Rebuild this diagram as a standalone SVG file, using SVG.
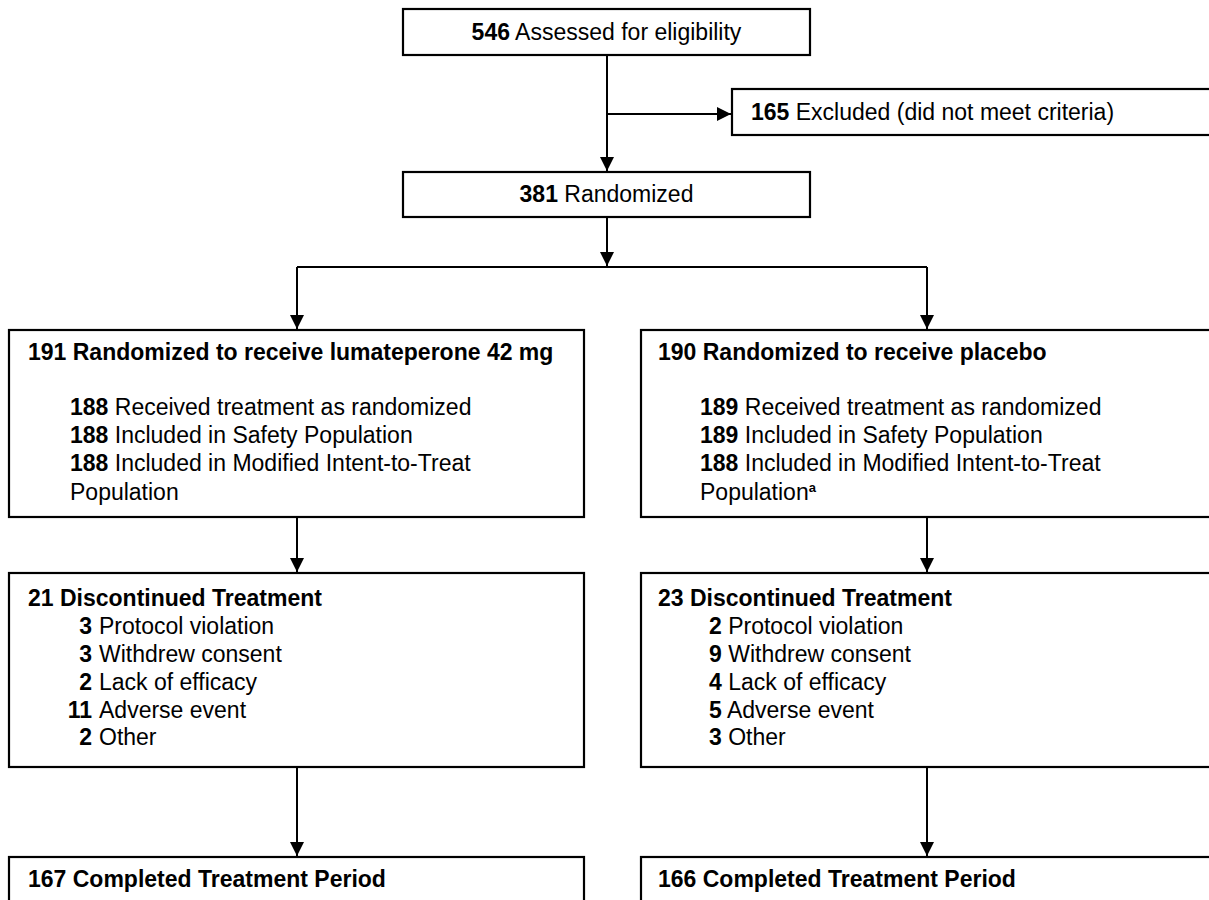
<svg xmlns="http://www.w3.org/2000/svg" width="1209" height="900" viewBox="0 0 1209 900">
<style>
  .box { fill: #ffffff; stroke: #000000; stroke-width: 2.2; }
  .t { font-family: "Liberation Sans", Arial, sans-serif; font-size: 23px; fill: #000000; }
  .b { font-weight: bold; }
  .c { text-anchor: middle; }
  .ln { fill: none; stroke: #000000; stroke-width: 2; }
</style>
<defs>
  <marker id="arr" markerUnits="userSpaceOnUse" markerWidth="15" markerHeight="15" refX="14" refY="7" orient="auto">
    <path d="M0,0 L14,7 L0,14 Z" fill="#000000"/>
  </marker>
</defs>
<rect width="1209" height="900" fill="#ffffff"/>

<g id="connectors">
  <path class="ln" d="M607,55 L607,171" marker-end="url(#arr)"/>
  <path class="ln" d="M607,114 L731,114" marker-end="url(#arr)"/>
  <path class="ln" d="M607,217 L607,266" marker-end="url(#arr)"/>
  <path class="ln" d="M297,267 L927,267"/>
  <path class="ln" d="M297,267 L297,329" marker-end="url(#arr)"/>
  <path class="ln" d="M927,267 L927,329" marker-end="url(#arr)"/>
  <path class="ln" d="M297,517 L297,572" marker-end="url(#arr)"/>
  <path class="ln" d="M927,517 L927,572" marker-end="url(#arr)"/>
  <path class="ln" d="M297,767 L297,856" marker-end="url(#arr)"/>
  <path class="ln" d="M927,767 L927,856" marker-end="url(#arr)"/>
</g>

<g id="assessed">
  <rect class="box" x="403" y="9" width="407" height="46"/>
  <text class="t c" x="606.5" y="40"><tspan class="b">546</tspan> Assessed for eligibility</text>
</g>

<g id="excluded">
  <rect class="box" x="732" y="89" width="490" height="46"/>
  <text class="t" x="751" y="120"><tspan class="b">165</tspan> Excluded (did not meet criteria)</text>
</g>

<g id="randomized">
  <rect class="box" x="403" y="172" width="407" height="45"/>
  <text class="t c" x="606.5" y="202"><tspan class="b">381</tspan> Randomized</text>
</g>

<g id="lumateperone">
  <rect class="box" x="9" y="330" width="575" height="187"/>
  <text class="t b" x="28" y="360">191 Randomized to receive lumateperone 42 mg</text>
  <text class="t" x="70" y="415"><tspan class="b">188</tspan> Received treatment as randomized</text>
  <text class="t" x="70" y="443"><tspan class="b">188</tspan> Included in Safety Population</text>
  <text class="t" x="70" y="471"><tspan class="b">188</tspan> Included in Modified Intent-to-Treat</text>
  <text class="t" x="70" y="500">Population</text>
</g>

<g id="placebo">
  <rect class="box" x="641" y="330" width="580" height="187"/>
  <text class="t b" x="658" y="360">190 Randomized to receive placebo</text>
  <text class="t" x="700" y="415"><tspan class="b">189</tspan> Received treatment as randomized</text>
  <text class="t" x="700" y="443"><tspan class="b">189</tspan> Included in Safety Population</text>
  <text class="t" x="700" y="471"><tspan class="b">188</tspan> Included in Modified Intent-to-Treat</text>
  <text class="t" x="700" y="500">Population<tspan class="b" font-size="13" dy="-8">a</tspan></text>
</g>

<g id="discontinued-lumateperone">
  <rect class="box" x="9" y="573" width="575" height="194"/>
  <text class="t b" x="28" y="606">21 Discontinued Treatment</text>
  <text class="t" text-anchor="end" y="634"><tspan class="b" x="92">3</tspan><tspan x="99" text-anchor="start">Protocol violation</tspan></text>
  <text class="t" text-anchor="end" y="662"><tspan class="b" x="92">3</tspan><tspan x="99" text-anchor="start">Withdrew consent</tspan></text>
  <text class="t" text-anchor="end" y="690"><tspan class="b" x="92">2</tspan><tspan x="99" text-anchor="start">Lack of efficacy</tspan></text>
  <text class="t" text-anchor="end" y="718"><tspan class="b" x="92">11</tspan><tspan x="99" text-anchor="start">Adverse event</tspan></text>
  <text class="t" text-anchor="end" y="745"><tspan class="b" x="92">2</tspan><tspan x="99" text-anchor="start">Other</tspan></text>
</g>

<g id="discontinued-placebo">
  <rect class="box" x="641" y="573" width="580" height="194"/>
  <text class="t b" x="658" y="606">23 Discontinued Treatment</text>
  <text class="t" x="709" y="634"><tspan class="b">2</tspan> Protocol violation</text>
  <text class="t" x="709" y="662"><tspan class="b">9</tspan> Withdrew consent</text>
  <text class="t" x="709" y="690"><tspan class="b">4</tspan> Lack of efficacy</text>
  <text class="t" x="709" y="718"><tspan class="b">5</tspan> Adverse event</text>
  <text class="t" x="709" y="745"><tspan class="b">3</tspan> Other</text>
</g>

<g id="completed-lumateperone">
  <rect class="box" x="9" y="857" width="575" height="60"/>
  <text class="t b" x="28" y="887">167 Completed Treatment Period</text>
</g>

<g id="completed-placebo">
  <rect class="box" x="641" y="857" width="580" height="60"/>
  <text class="t b" x="658" y="887">166 Completed Treatment Period</text>
</g>
</svg>
